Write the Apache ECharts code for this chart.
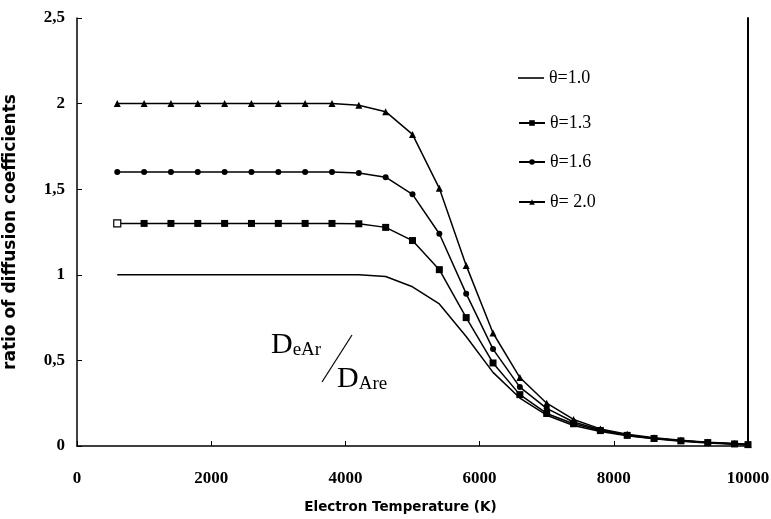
<!DOCTYPE html>
<html>
<head>
<meta charset="utf-8">
<script src="https://cdn.jsdelivr.net/npm/echarts@6/dist/echarts.min.js"></script>
<style>
html,body{margin:0;padding:0;background:#fff;}
#chart{width:771px;height:519px;}
</style>
</head>
<body>
<div id="chart"></div>
<script>
var temperatures = [600,1000,1400,1800,2200,2600,3000,3400,3800,4200,4600,5000,5400,5800,6200,6600,7000,7400,7800,8200,8600,9000,9400,9800,10000];
var theta10 = [1,1,1,1,1,1,1,1,1,1.0,0.99,0.93,0.83,0.64,0.43,0.28,0.18,0.12,0.085,0.06,0.042,0.028,0.018,0.01,0.007];
var theta13 = [1.3,1.3,1.3,1.3,1.3,1.3,1.3,1.3,1.3,1.298,1.277,1.20,1.03,0.75,0.485,0.30,0.19,0.13,0.09,0.062,0.044,0.03,0.02,0.012,0.008];
var theta16 = [1.6,1.6,1.6,1.6,1.6,1.6,1.6,1.6,1.6,1.594,1.57,1.47,1.24,0.89,0.566,0.344,0.22,0.14,0.095,0.065,0.046,0.031,0.021,0.013,0.009];
var theta20 = [2,2,2,2,2,2,2,2,2,1.99,1.953,1.82,1.505,1.055,0.66,0.40,0.25,0.155,0.10,0.068,0.048,0.033,0.022,0.014,0.01];
var seriesNames = ['θ=1.0','θ=1.3','θ=1.6','θ= 2.0'];
var xTicks = [0,2000,4000,6000,8000,10000];
var yTicks = ['0','0,5','1','1,5','2','2,5'];

function pairs(vals){ return temperatures.map(function(t,i){ return [t, vals[i]]; }); }

var chart = echarts.init(document.getElementById('chart'));
var serif = '"Liberation Serif", "DejaVu Serif", serif';
var lineStyle = {color:'#000', width:1.5};
function mkSeries(name, vals, symbol, size){
  return {
    name:name, type:'line', data:pairs(vals), symbol:symbol, symbolSize:size,
    showSymbol: symbol !== 'none',
    smooth:false,
    lineStyle:lineStyle, itemStyle:{color:'#000'}, animation:false, z:3
  };
}
var s13 = mkSeries(seriesNames[1], theta13, 'rect', 7);
s13.data[0] = {value:s13.data[0], itemStyle:{color:'#fff', borderColor:'#000', borderWidth:1.2}};

function legendAt(item, top, h){
  return {
    data:[item], left:513, top:top, orient:'vertical',
    itemWidth:26, itemHeight:h || 7, itemGap:0,
    textStyle:{fontFamily:serif, fontSize:18, color:'#000'}
  };
}

chart.setOption({
  animation:false,
  backgroundColor:'#fff',
  grid:{left:77, right:23, top:18, bottom:73, containLabel:false, outerBoundsMode:'none'},
  legend:[
    legendAt({name:seriesNames[0], icon:'rect'}, 64, 1.6),
    legendAt(seriesNames[1], 109),
    legendAt(seriesNames[2], 148),
    legendAt(seriesNames[3], 188)
  ],
  xAxis:{
    type:'value', min:0, max:10000, interval:2000,
    name:'Electron Temperature (K)', nameLocation:'middle', nameGap:54,
    nameTextStyle:{fontFamily:'"DejaVu Sans", sans-serif', fontWeight:'bold', fontSize:13.5, color:'#000', padding:[0,24,0,0]},
    axisLine:{show:true, lineStyle:{color:'#000', width:1.5}},
    axisTick:{show:true, inside:true, length:5, lineStyle:{color:'#000'}},
    axisLabel:{margin:24, fontFamily:serif, fontWeight:'bold', fontSize:17, color:'#000',
      formatter:function(v){ return xTicks.indexOf(v) >= 0 ? String(v) : ''; }},
    splitLine:{show:false}
  },
  yAxis:[{
    type:'value', min:0, max:2.5, interval:0.5,
    name:'ratio of diffusion coefficients', nameLocation:'middle', nameGap:58,
    nameTextStyle:{fontFamily:'"DejaVu Sans", sans-serif', fontWeight:'bold', fontSize:17, color:'#000'},
    axisLine:{show:true, lineStyle:{color:'#000', width:1.5}},
    axisTick:{show:true, inside:true, length:5, lineStyle:{color:'#000'}},
    axisLabel:{margin:12, fontFamily:serif, fontWeight:'bold', fontSize:17, color:'#000',
      formatter:function(v){ return yTicks[Math.round(v*2)]; }},
    splitLine:{show:false}
  },{
    type:'value', min:0, max:2.5, interval:0.5, position:'right',
    axisLine:{show:true, lineStyle:{color:'#000', width:2}},
    axisTick:{show:false}, axisLabel:{show:false}, splitLine:{show:false}
  }],
  series:[
    mkSeries(seriesNames[0], theta10, 'none', 0),
    s13,
    mkSeries(seriesNames[2], theta16, 'circle', 6),
    mkSeries(seriesNames[3], theta20, 'triangle', 7)
  ],
  graphic:[
    {type:'text', left:271, top:330, style:{text:'{D|D}{s|eAr}', rich:{D:{fontSize:30, fontFamily:serif, fill:'#000'}, s:{fontSize:19, fontFamily:serif, fill:'#000', padding:[10,0,0,0]}}}},
    {type:'text', left:337, top:364, style:{text:'{D|D}{s|Are}', rich:{D:{fontSize:30, fontFamily:serif, fill:'#000'}, s:{fontSize:19, fontFamily:serif, fill:'#000', padding:[10,0,0,0]}}}},
    {type:'line', shape:{x1:352, y1:335, x2:322, y2:382}, style:{stroke:'#000', lineWidth:1.2}}
  ]
});
</script>
</body>
</html>
